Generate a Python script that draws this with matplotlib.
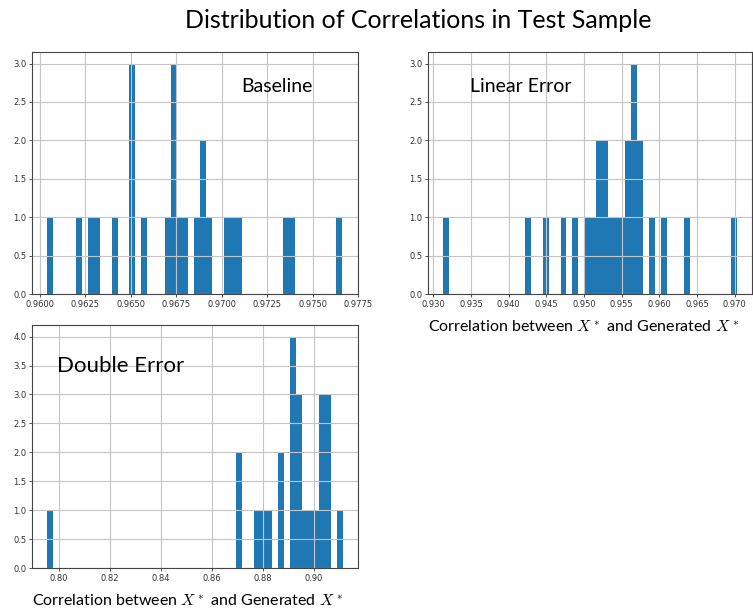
import matplotlib
matplotlib.use('Agg')
from matplotlib import pyplot as plt
from matplotlib.ticker import FormatStrFormatter
import numpy as np

# correlation of each test sample, per model
baseline = [0.96037, 0.96216, 0.96281, 0.96313, 0.96411,
            0.96508, 0.96508, 0.96508, 0.96573, 0.96703,
            0.96735, 0.96735, 0.96735, 0.96768, 0.96800,
            0.96865, 0.96898, 0.96898, 0.96930, 0.97028,
            0.97060, 0.97093, 0.97353, 0.97385, 0.97662]

linear_error = [0.93124, 0.94258, 0.94493, 0.94727, 0.94884,
                0.95040, 0.95118, 0.95197, 0.95197, 0.95275,
                0.95275, 0.95353, 0.95431, 0.95509, 0.95588,
                0.95588, 0.95666, 0.95666, 0.95666, 0.95744,
                0.95744, 0.95900, 0.96057, 0.96370, 0.97034]

double_error = [0.79514, 0.87080, 0.87080, 0.87778, 0.88011,
                0.88244, 0.88710, 0.88710, 0.89176, 0.89176,
                0.89176, 0.89176, 0.89409, 0.89409, 0.89409,
                0.89641, 0.89874, 0.90107, 0.90340, 0.90340,
                0.90340, 0.90573, 0.90573, 0.90573, 0.91156]

W, H = 753, 614
fig = plt.figure(figsize=(W / 100, H / 100), dpi=100)
plt.rcParams['mathtext.fontset'] = 'cm'

def box(x0, y0, x1, y1):
    # pixel box (top-left origin) -> figure fraction rect
    return [x0 / W, 1 - y1 / H, (x1 - x0) / W, (y1 - y0) / H]

panels = [
    (baseline, box(32, 52, 358, 294), np.arange(0.9600, 0.97751, 0.0025), '%.4f',
     np.arange(0, 3.01, 0.5)),
    (linear_error, box(428, 52, 752, 294), np.arange(0.930, 0.9701, 0.005), '%.3f',
     np.arange(0, 3.01, 0.5)),
    (double_error, box(32, 325, 358, 568), np.arange(0.80, 0.901, 0.02), '%.2f',
     np.arange(0, 4.01, 0.5)),
]

for vals, rect, xt, fmt, yt in panels:
    ax = fig.add_axes(rect)
    ax.hist(vals, bins=50, color='#1f77b4')
    ax.grid(True, color='#c4c4c4', linewidth=0.8)
    ax.set_xticks(xt)
    ax.set_yticks(yt)
    ax.xaxis.set_major_formatter(FormatStrFormatter(fmt))
    ax.yaxis.set_major_formatter(FormatStrFormatter('%.1f'))
    ax.tick_params(labelsize=6, length=2.5, width=0.6, pad=1.5, colors='#333333')
    for s in ax.spines.values():
        s.set_linewidth(0.8)
        s.set_color('#444444')

font = 'Lato'
fig.text(418 / W, 1 - 21 / H, 'Distribution of Correlations in Test Sample',
         ha='center', va='center', fontsize=18, family=font)
fig.text(277 / W, 1 - 87 / H, 'Baseline', ha='center', va='center', fontsize=14, family=font)
fig.text(521 / W, 1 - 87 / H, 'Linear Error', ha='center', va='center', fontsize=14, family=font)
fig.text(121 / W, 1 - 366 / H, 'Double Error', ha='center', va='center', fontsize=16, family=font)

xlab = 'Correlation between $X^*$ and Generated $X^*$'
fig.text(583 / W, 1 - 327 / H, xlab, ha='center', va='center', fontsize=11.5, family=font)
fig.text(187 / W, 1 - 601 / H, xlab, ha='center', va='center', fontsize=11.5, family=font)

plt.savefig('out.png', dpi=100)
